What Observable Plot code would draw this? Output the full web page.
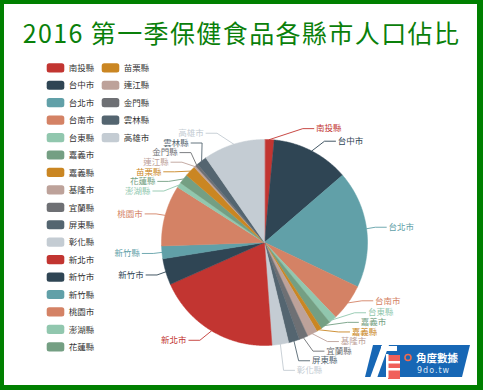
<!DOCTYPE html>
<html><head><meta charset="utf-8">
<script src="https://cdn.jsdelivr.net/npm/d3@7"></script>
<script src="https://cdn.jsdelivr.net/npm/@observablehq/plot@0.6"></script>
<style>
html,body{margin:0;padding:0;background:#fff;}
#wrap{position:relative;width:483px;height:390px;overflow:hidden;font-family:"Noto Sans CJK TC","Noto Sans",sans-serif;}
#chart{position:absolute;left:0;top:0;}
#title{position:absolute;left:0;width:483px;top:18px;line-height:28px;text-align:center;font-size:25px;letter-spacing:1.4px;color:#0a800a;white-space:nowrap;}
#logo{position:absolute;left:360px;top:335px;}
#border{position:absolute;left:0;top:0;width:483px;height:390px;box-sizing:border-box;border-style:solid;border-color:#008000;border-width:4px 6px 5px 4px;pointer-events:none;}
</style></head>
<body>
<div id="wrap">
  <div id="chart"></div>
  <div id="title">2016 第一季保健食品各縣市人口佔比</div>
  <svg id="logo" width="123" height="50" viewBox="0 0 123 50">
    <polygon points="13,10 110,10 102,42 5,42" fill="#1767b5"/>
    <rect x="28" y="20" width="12" height="24" fill="#f0605a"/>
    <polygon points="22,10 29,10 17,43 10,43" fill="#fff"/>
    <rect x="21" y="11" width="16" height="5" fill="#fff"/>
    <rect x="26" y="19" width="2.5" height="24" fill="#fff"/>
    <rect x="26" y="26" width="14" height="2.5" fill="#fff"/>
    <rect x="26" y="33" width="14" height="2.5" fill="#fff"/>
    <circle cx="48" cy="22.5" r="3" fill="none" stroke="#f06a50" stroke-width="1.6"/>
    <text x="56" y="26.5" font-size="10.5" font-weight="bold" fill="#fff" font-family="Noto Sans CJK TC">角度數據</text>
    <text x="57" y="37.5" font-size="8" fill="#dce9f6" letter-spacing="1" font-family="DejaVu Sans">9do.tw</text>
  </svg>
  <div id="border"></div>
</div>
<script>
const names = ["南投縣","台中市","台北市","台南市","台東縣","嘉義市","嘉義縣","基隆市","宜蘭縣","屏東縣","彰化縣","新北市","新竹市","新竹縣","桃園市","澎湖縣","花蓮縣","苗栗縣","連江縣","金門縣","雲林縣","高雄市"];
const values = [1.5,12.1,18.3,5.8,1.2,1.6,0.8,1.6,1.4,1.7,2.6,19.4,4.1,2.0,9.5,0.8,1.5,1.7,0.3,0.4,1.6,9.6];
const palette = ["#c23531","#2f4554","#61a0a8","#d48265","#91c7ae","#749f83","#ca8622","#bda29a","#6e7074","#546570","#c4ccd3"];

const W = 483, H = 390;
const cx = 264, cy = 242, R = 103;
const len = 11, len2 = 11, labelH = 9.6, step = 7.5;

const data = names.map((n, i) => ({name: n, value: values[i], color: palette[i % palette.length]}));
const arcs = d3.pie().sort(null).value(d => d.value)(data);

// slice polygons
const slicePts = [];
arcs.forEach(a => {
  const d = a.data;
  slicePts.push({x: cx, y: cy, name: d.name, color: d.color});
  const n = Math.max(2, Math.ceil((a.endAngle - a.startAngle) / 0.01));
  for (let k = 0; k <= n; k++) {
    const t = a.startAngle + (a.endAngle - a.startAngle) * k / n;
    slicePts.push({x: cx + R * Math.sin(t), y: cy - R * Math.cos(t), name: d.name, color: d.color});
  }
});

// label layout (ECharts-like)
const labels = arcs.map(a => {
  const mid = (a.startAngle + a.endAngle) / 2;
  const dx = Math.sin(mid), dy = -Math.cos(mid);
  const x1 = cx + R * dx, y1 = cy + R * dy;
  const x2 = cx + (R + len) * dx, y2 = cy + (R + len) * dy;
  const dir = dx < 0 ? -1 : 1;
  const x3 = x2 + dir * len2;
  return {name: a.data.name, color: a.data.color, x: x3 + dir * 3.75, y: y2, height: labelH,
          len, len2, pts: [[x1, y1], [x2, y2], [x3, y2]]};
});

function changeX(list, isDown, dir) {
  let last = isDown ? Number.MAX_VALUE : 0;
  for (const l of list) {
    const dY = Math.abs(l.y - cy);
    let dX = dY < R + l.len
      ? Math.sqrt((R + l.len + l.len2) ** 2 - dY * dY)
      : Math.abs(l.x - cx);
    if (isDown && dX >= last) dX = last - step;
    if (!isDown && dX <= last) dX = last + step;
    l.x = cx + dX * dir;
    last = dX;
  }
}
function adjustSide(list, dir) {
  list.sort((a, b) => a.y - b.y);
  const shiftUp = (end, delta) => {
    for (let j = end; j >= 0; j--) {
      list[j].y -= delta;
      if (j > 0 && list[j].y > list[j - 1].y + list[j - 1].height) break;
    }
  };
  const shiftDown = (start, end, delta) => {
    for (let j = start; j < end; j++) {
      list[j].y += delta;
      if (j > start && j + 1 < end && list[j + 1].y > list[j].y + list[j].height) {
        shiftUp(j, delta / 2);
        return;
      }
    }
    shiftUp(end - 1, delta / 2);
  };
  let lastY = 0;
  for (let i = 0; i < list.length; i++) {
    const delta = list[i].y - lastY;
    if (delta < 0) shiftDown(i, list.length, -delta);
    lastY = list[i].y + list[i].height;
  }
  const up = list.filter(l => l.y < cy), down = list.filter(l => l.y >= cy);
  changeX(up, false, dir);
  changeX(down, true, dir);
}
const leftL = labels.filter(l => l.x < cx), rightL = labels.filter(l => l.x >= cx);
adjustSide(rightL, 1);
adjustSide(leftL, -1);
labels.forEach(l => {
  const p = l.pts;
  const dist = p[1][0] - p[2][0];
  p[2][0] = l.x < cx ? l.x + 2.25 : l.x - 2.25;
  p[1][1] = p[2][1] = l.y;
  p[1][0] = p[2][0] + dist;
});
const linePts = labels.flatMap(l => l.pts.map(([x, y]) => ({x, y, name: l.name, color: l.color})));

// legend
const perCol = 17;
const legend = data.map((d, i) => {
  const col = Math.floor(i / perCol), row = i % perCol;
  const x0 = 46.7 + col * 55;
  const yc = 67.8 + row * 17.44;
  return {name: d.name, color: d.color, x1: x0, x2: x0 + 17.6, y1: yc - 4.6, y2: yc + 4.6, tx: x0 + 21.6, ty: yc};
});

const chart = Plot.plot({
  width: W, height: H, margin: 0,
  x: {domain: [0, W], range: [0, W], axis: null},
  y: {domain: [0, H], range: [0, H], axis: null},
  color: {type: "identity"},
  style: {fontFamily: '"Noto Sans CJK TC","Noto Sans",sans-serif', background: "transparent", overflow: "visible"},
  marks: [
    Plot.line(slicePts, {x: "x", y: "y", z: "name", fill: "color", stroke: "color", strokeWidth: 0.5, curve: "linear-closed"}),
    Plot.line(linePts, {x: "x", y: "y", z: "name", stroke: "color", strokeWidth: 0.9}),
    Plot.text(labels.filter(l => l.x >= cx), {x: "x", y: "y", text: "name", fill: "color", textAnchor: "start", fontSize: 8.5}),
    Plot.text(labels.filter(l => l.x < cx), {x: "x", y: "y", text: "name", fill: "color", textAnchor: "end", fontSize: 8.5}),
    Plot.rect(legend, {x1: "x1", x2: "x2", y1: "y1", y2: "y2", fill: "color", rx: 2.5}),
    Plot.text(legend, {x: "tx", y: "ty", text: "name", fill: "#333", textAnchor: "start", fontSize: 8.5})
  ]
});
document.getElementById("chart").appendChild(chart);
</script>
</body></html>
